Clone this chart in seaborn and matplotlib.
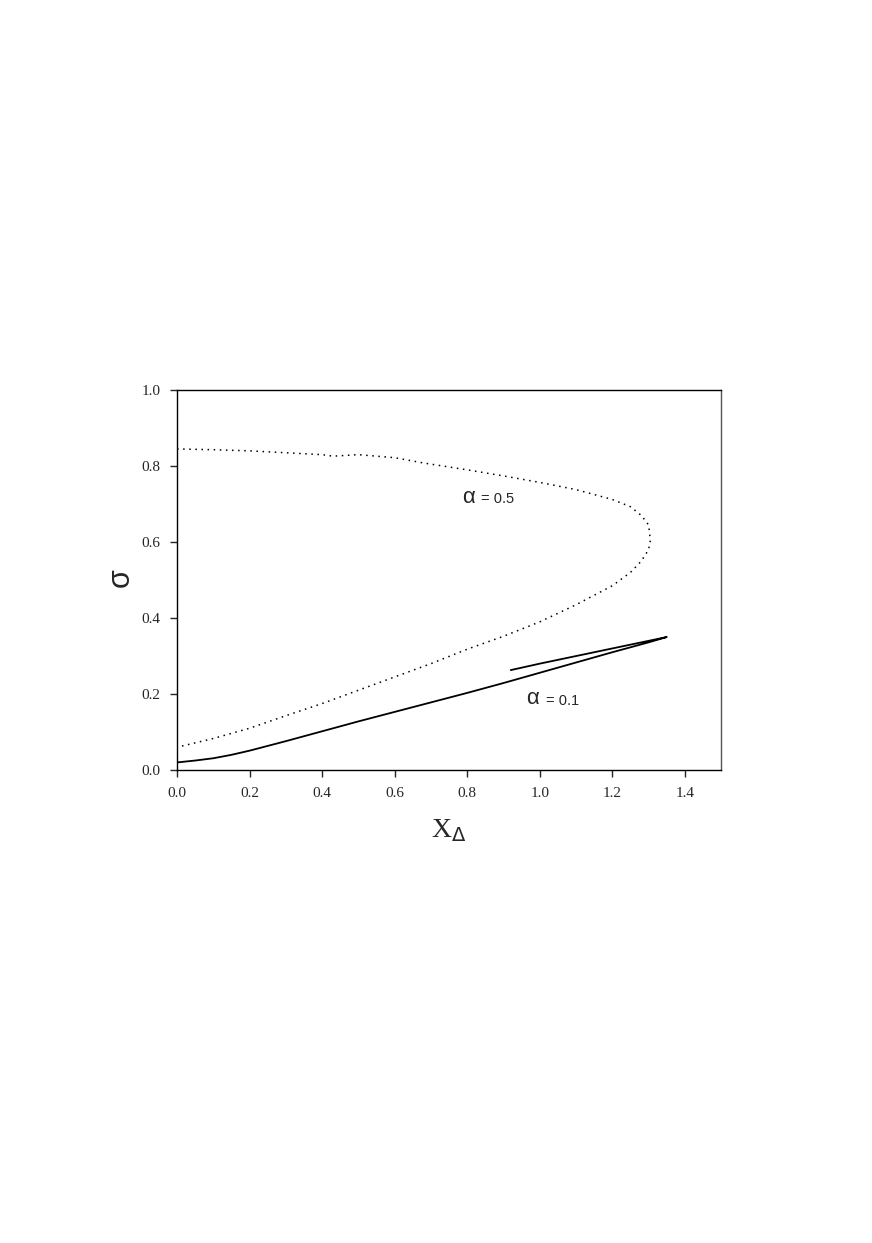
import matplotlib
matplotlib.use("Agg")
import matplotlib.pyplot as plt
import seaborn as sns
import pandas as pd

# alpha = 0.5 branch (dotted)
x_a05 = [0.00, 0.10, 0.20, 0.30, 0.40, 0.43, 0.50, 0.60, 0.68, 0.80, 0.90, 1.00,
         1.10, 1.20, 1.25, 1.28, 1.30, 1.305, 1.30, 1.28, 1.25, 1.20, 1.10, 1.00,
         0.90, 0.80, 0.70, 0.60, 0.50, 0.40, 0.30, 0.20, 0.10, 0.00]
y_a05 = [0.845, 0.843, 0.840, 0.835, 0.830, 0.826, 0.830, 0.822, 0.808, 0.790, 0.774, 0.757,
         0.738, 0.712, 0.693, 0.670, 0.645, 0.605, 0.580, 0.550, 0.520, 0.485, 0.435, 0.390,
         0.352, 0.318, 0.280, 0.245, 0.210, 0.175, 0.143, 0.110, 0.083, 0.060]

# alpha = 0.1 branch (solid)
x_a01 = [0.00, 0.05, 0.10, 0.15, 0.20, 0.30, 0.40, 0.50, 0.60, 0.70, 0.80, 0.90, 1.00, 1.10,
         1.20, 1.30, 1.35, 1.30, 1.20, 1.10, 1.00, 0.92]
y_a01 = [0.020, 0.025, 0.031, 0.040, 0.051, 0.076, 0.102, 0.128, 0.153, 0.178, 0.203, 0.229,
         0.256, 0.283, 0.310, 0.336, 0.350, 0.340, 0.320, 0.300, 0.280, 0.263]

sns.set_style("white")
plt.rcParams['font.family'] = ['Liberation Serif', 'DejaVu Serif']

fig = plt.figure(figsize=(8.72, 12.43), dpi=100)
ax = fig.add_axes([0.203, 0.3805, 0.624, 0.3057])

df05 = pd.DataFrame({'x': x_a05, 'y': y_a05})
df01 = pd.DataFrame({'x': x_a01, 'y': y_a01})

sns.lineplot(data=df05, x='x', y='y', sort=False, estimator=None, ax=ax,
             color='black', linestyle=(0, (1, 3)), linewidth=1.1)
sns.lineplot(data=df01, x='x', y='y', sort=False, estimator=None, ax=ax,
             color='black', linewidth=1.3)

ax.set_xlim(0, 1.5)
ax.set_ylim(0, 1.0)
ax.set_xticks([0.0, 0.2, 0.4, 0.6, 0.8, 1.0, 1.2, 1.4])
ax.set_yticks([0.0, 0.2, 0.4, 0.6, 0.8, 1.0])
ax.set_xticklabels([f"{v:.1f}" for v in ax.get_xticks()])
ax.set_yticklabels([f"{v:.1f}" for v in ax.get_yticks()])
ax.tick_params(axis='both', direction='out', length=5, width=1, labelsize=11,
               bottom=True, left=True, top=False, right=False, pad=7)
for side in ['top', 'bottom', 'left', 'right']:
    ax.spines[side].set_visible(True)
    ax.spines[side].set_color('black')
    ax.spines[side].set_linewidth(1.0)
ax.spines['right'].set_color('#555555')

ax.set_xlabel('')
ax.set_ylabel('')
fig.text(0.515, 0.332, r'X$_\Delta$', fontsize=20, ha='center', va='center',
         family=['Liberation Serif', 'DejaVu Serif'])
fig.text(0.138, 0.535, 'σ', fontsize=22, rotation=90, ha='center', va='center',
         family=['Liberation Sans', 'DejaVu Sans'])

ax.text(0.785, 0.718, 'α', fontsize=16, ha='left', va='center',
        family=['Liberation Sans', 'DejaVu Sans'])
ax.text(0.838, 0.713, '= 0.5', fontsize=10.5, ha='left', va='center',
        family=['Liberation Sans', 'DejaVu Sans'])
ax.text(0.963, 0.188, 'α', fontsize=16, ha='left', va='center',
        family=['Liberation Sans', 'DejaVu Sans'])
ax.text(1.016, 0.183, '= 0.1', fontsize=10.5, ha='left', va='center',
        family=['Liberation Sans', 'DejaVu Sans'])

fig.savefig('out.png', dpi=100)
